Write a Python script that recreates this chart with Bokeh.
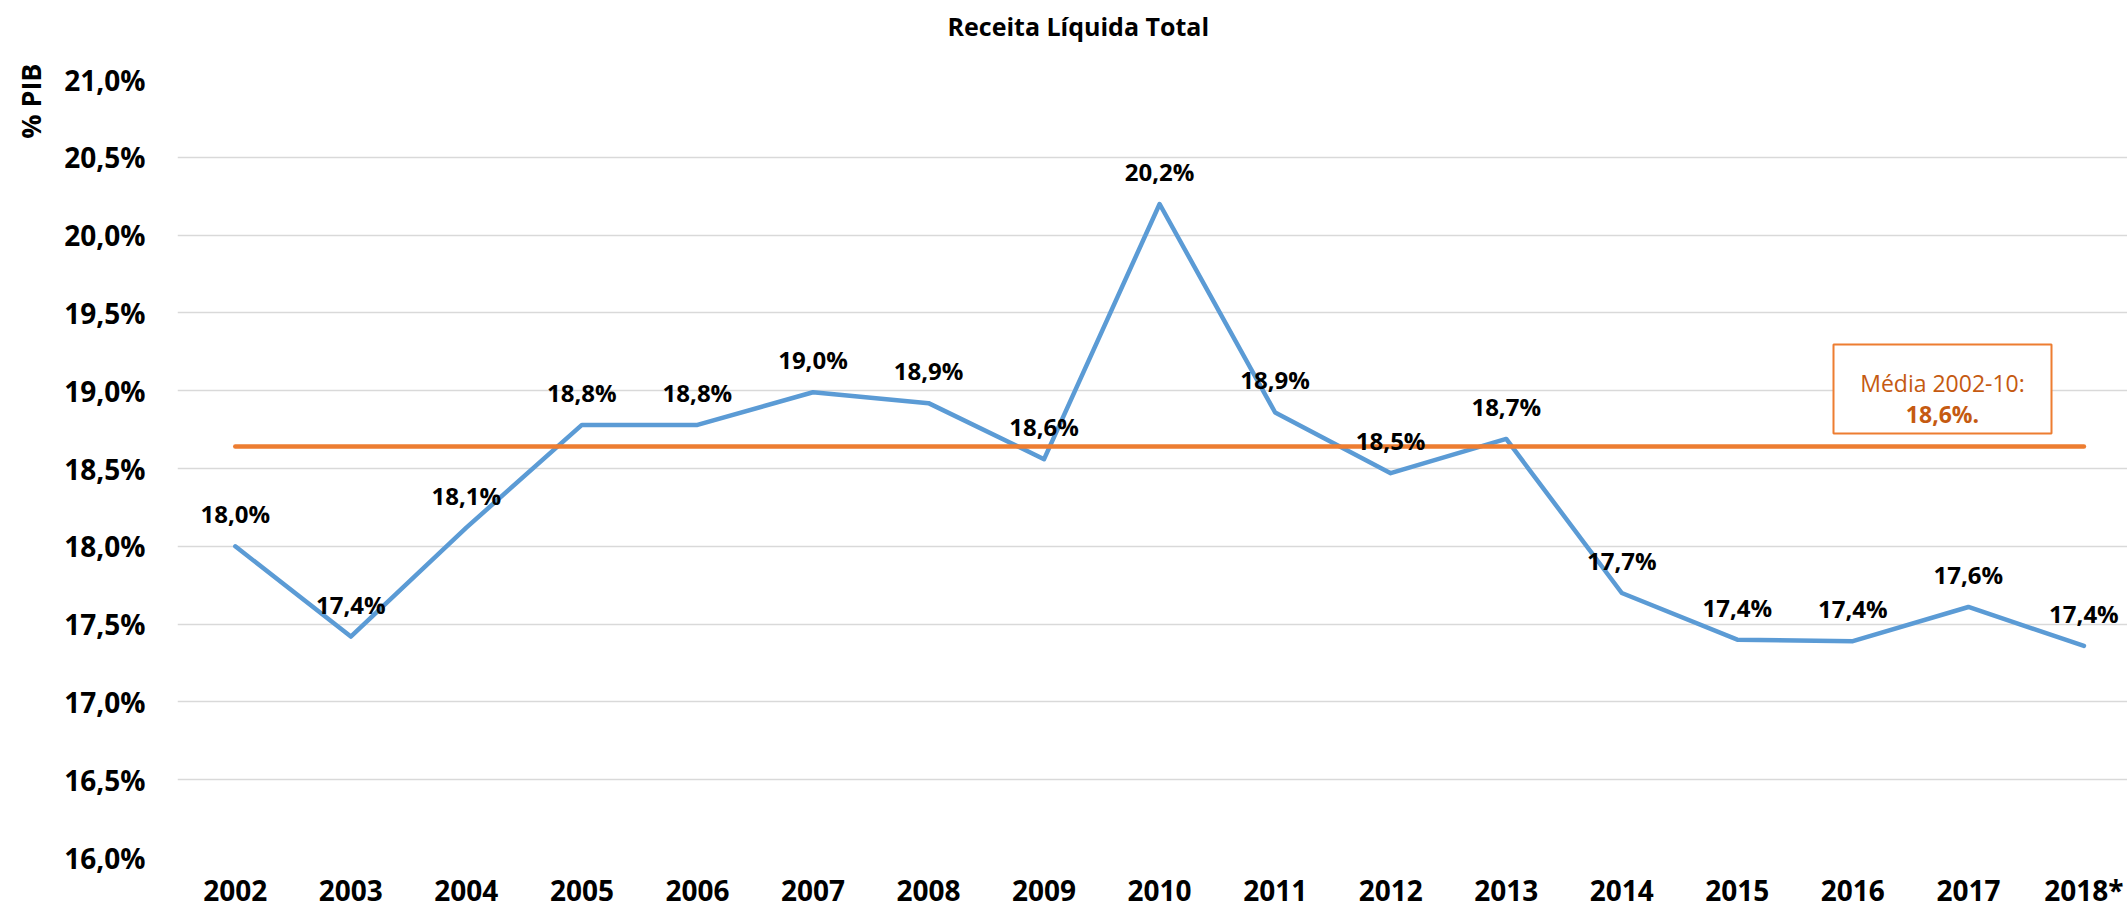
from bokeh.plotting import figure
from bokeh.models import Range1d, FixedTicker, ColumnDataSource, LabelSet, Label, BoxAnnotation, Title
from bokeh.core.properties import value
from bokeh.embed import file_html
from bokeh.resources import INLINE

# ---- data ----
years = ["2002", "2003", "2004", "2005", "2006", "2007", "2008", "2009", "2010",
         "2011", "2012", "2013", "2014", "2015", "2016", "2017", "2018*"]
receita = [18.00, 17.42, 18.12, 18.78, 18.78, 18.99, 18.92, 18.56, 20.20,
           18.86, 18.47, 18.69, 17.70, 17.40, 17.39, 17.61, 17.36]
rotulos = ["18,0%", "17,4%", "18,1%", "18,8%", "18,8%", "19,0%", "18,9%", "18,6%", "20,2%",
           "18,9%", "18,5%", "18,7%", "17,7%", "17,4%", "17,4%", "17,6%", "17,4%"]
y_ticks = [16.0, 16.5, 17.0, 17.5, 18.0, 18.5, 19.0, 19.5, 20.0, 20.5, 21.0]
y_tick_labels = ["16,0%", "16,5%", "17,0%", "17,5%", "18,0%", "18,5%", "19,0%",
                 "19,5%", "20,0%", "20,5%", "21,0%"]
media_n = 9  # 2002-2010
media_valor = sum(receita[:media_n]) / media_n
media_texto1 = "Média 2002-10:"
media_texto2 = "18,6%."

FONT = "Open Sans"
BLUE = "#5B9BD5"
ORANGE = "#ED7D31"
ORANGE_TXT = "#C55A11"

idx = list(range(len(years)))

p = figure(width=2127, height=912, output_backend="svg", toolbar_location=None,
           x_range=Range1d(-0.5, 16.377), y_range=Range1d(16.0, 21.0),
           min_border_left=176, min_border_right=0, min_border_top=79, min_border_bottom=55)
p.outline_line_color = None
p.background_fill_color = "white"
p.border_fill_color = "white"
p.xgrid.visible = False
p.ygrid.grid_line_color = "#D9D9D9"
p.ygrid.grid_line_width = 1.5

p.yaxis.ticker = FixedTicker(ticks=y_ticks)
p.yaxis.major_label_overrides = {t: l for t, l in zip(y_ticks, y_tick_labels)}
p.xaxis.ticker = FixedTicker(ticks=idx)
p.xaxis.major_label_overrides = {i: y for i, y in zip(idx, years)}

for ax in (p.xaxis[0], p.yaxis[0]):
    ax.axis_line_color = None
    ax.major_tick_line_color = None
    ax.minor_tick_line_color = None
    ax.major_tick_in = 0
    ax.major_tick_out = 0
    ax.major_label_text_font = FONT
    ax.major_label_text_font_style = "bold"
    ax.major_label_text_font_size = "28px"
    ax.major_label_text_color = "black"
p.yaxis.major_label_standoff = 32
p.xaxis.major_label_standoff = 13

src = ColumnDataSource(dict(x=idx, y=receita, t=rotulos))
p.line("x", "y", source=src, line_width=4.5, line_color=BLUE, line_join="round", line_cap="round")
p.line([idx[0], idx[-1]], [media_valor, media_valor], line_width=4.5, line_color=ORANGE, line_cap="round")

p.add_layout(LabelSet(x="x", y="y", text="t", source=src, y_offset=23,
                      text_align="center", text_baseline="alphabetic",
                      text_font=value(FONT), text_font_style="bold",
                      text_font_size="24px", text_color="black"))

# spacer between frame and title (innermost in the top panel)
p.add_layout(Title(text=" ", standoff=4, text_font=FONT, text_font_size="16px"), "above")
p.add_layout(Title(text="Receita Líquida Total", align="left", offset=770,
                   vertical_align="top", standoff=14,
                   text_font=FONT, text_font_style="bold", text_font_size="25px",
                   text_color="black"), "above")
p.add_layout(Title(text="% PIB", align="right", offset=-16,
                   vertical_align="top", standoff=22,
                   text_font=FONT, text_font_style="bold", text_font_size="27px",
                   text_color="black"), "left")

p.add_layout(BoxAnnotation(left=1656, right=1874, top=513, bottom=424,
                           left_units="screen", right_units="screen",
                           top_units="screen", bottom_units="screen",
                           fill_color="white", fill_alpha=1.0,
                           line_color=ORANGE, line_alpha=1.0, line_width=2))
p.add_layout(Label(x=1765, y=475, x_units="screen", y_units="screen",
                   text=media_texto1, text_align="center", text_baseline="alphabetic",
                   text_font=FONT, text_font_size="23px", text_color=ORANGE_TXT))
p.add_layout(Label(x=1765, y=444, x_units="screen", y_units="screen",
                   text=media_texto2, text_align="center", text_baseline="alphabetic",
                   text_font=FONT, text_font_style="bold", text_font_size="23px",
                   text_color=ORANGE_TXT))

open("out.html", "w").write(file_html(p, INLINE))
